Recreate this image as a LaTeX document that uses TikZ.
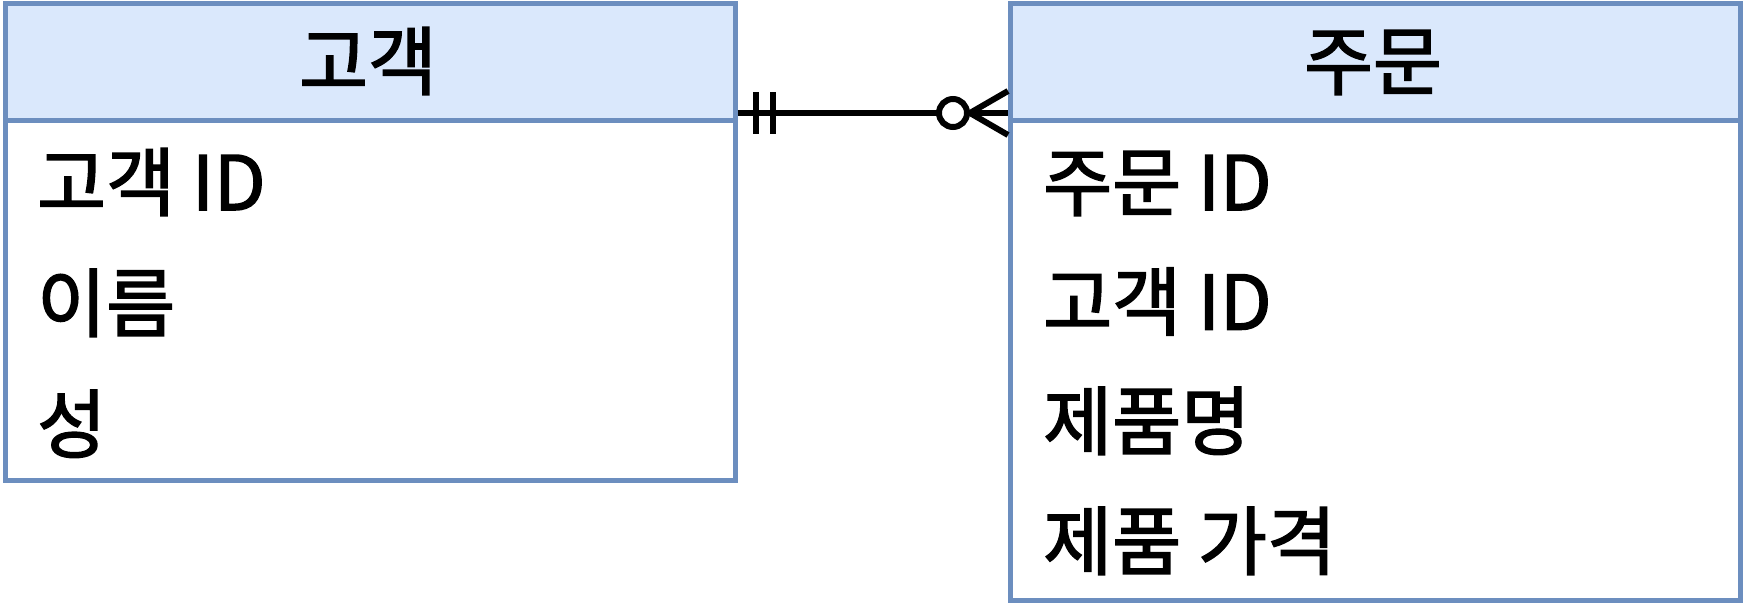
\documentclass[tikz,border=0pt]{standalone}
\usepackage{fontspec}
\setmainfont{Noto Sans CJK KR}
\newfontfamily\kfont[FakeBold=2]{Noto Sans CJK KR}
\definecolor{hdrfill}{HTML}{DAE8FC}
\definecolor{bordc}{HTML}{6C8EBF}
\tikzset{
  entbox/.style={draw=bordc, line width=4.5pt, fill=white, rectangle, anchor=north west, inner sep=0pt},
  hdrbox/.style={draw=bordc, line width=4.5pt, fill=hdrfill, rectangle, anchor=north west, inner sep=0pt},
  title/.style={anchor=base, inner sep=0pt, font=\kfont\fontsize{75}{80}\selectfont},
  attr/.style={anchor=base west, inner sep=0pt, font=\kfont\fontsize{75}{80}\selectfont},
  rel/.style={line width=6pt, black}
}
\begin{document}
\begin{tikzpicture}[x=1pt,y=-1pt]
\useasboundingbox (0,0) rectangle (1744,608);
% left entity
\node[entbox, minimum width=730pt, minimum height=477pt] (lbox) at (3,1) {};
\node[hdrbox, minimum width=730pt, minimum height=117pt] (lhdr) at (3,1) {};
\node[title] (ltitle) at (368,89) {고객};
\node[attr] (l1) at (37,210) {고객 ID};
\node[attr] (l2) at (37,331) {이름};
\node[attr] (l3) at (37,452) {성};
% right entity
\node[entbox, minimum width=730pt, minimum height=597pt] (rbox) at (1008,1) {};
\node[hdrbox, minimum width=730pt, minimum height=117pt] (rhdr) at (1008,1) {};
\node[title] (rtitle) at (1373,89) {주문};
\node[attr] (r1) at (1043,210) {주문 ID};
\node[attr] (r2) at (1043,329.5) {고객 ID};
\node[attr] (r3) at (1043,449) {제품명};
\node[attr] (r4) at (1043,569) {제품 가격};
% relationship
\coordinate (la) at (lbox.east |- 0,113);
\coordinate (ra) at (rbox.west |- 0,113);
\draw[rel] (la) -- (ra);
\draw[rel] ([xshift=18pt]la) ++(0,-21) -- ++(0,42);
\draw[rel] ([xshift=35pt]la) ++(0,-21) -- ++(0,42);
\draw[rel, fill=white] ([xshift=-55pt]ra) circle[radius=14pt];
\draw[rel] ([xshift=-38pt]ra) -- ([yshift=22pt]ra);
\draw[rel] ([xshift=-38pt]ra) -- ([yshift=-22pt]ra);
\end{tikzpicture}
\end{document}
